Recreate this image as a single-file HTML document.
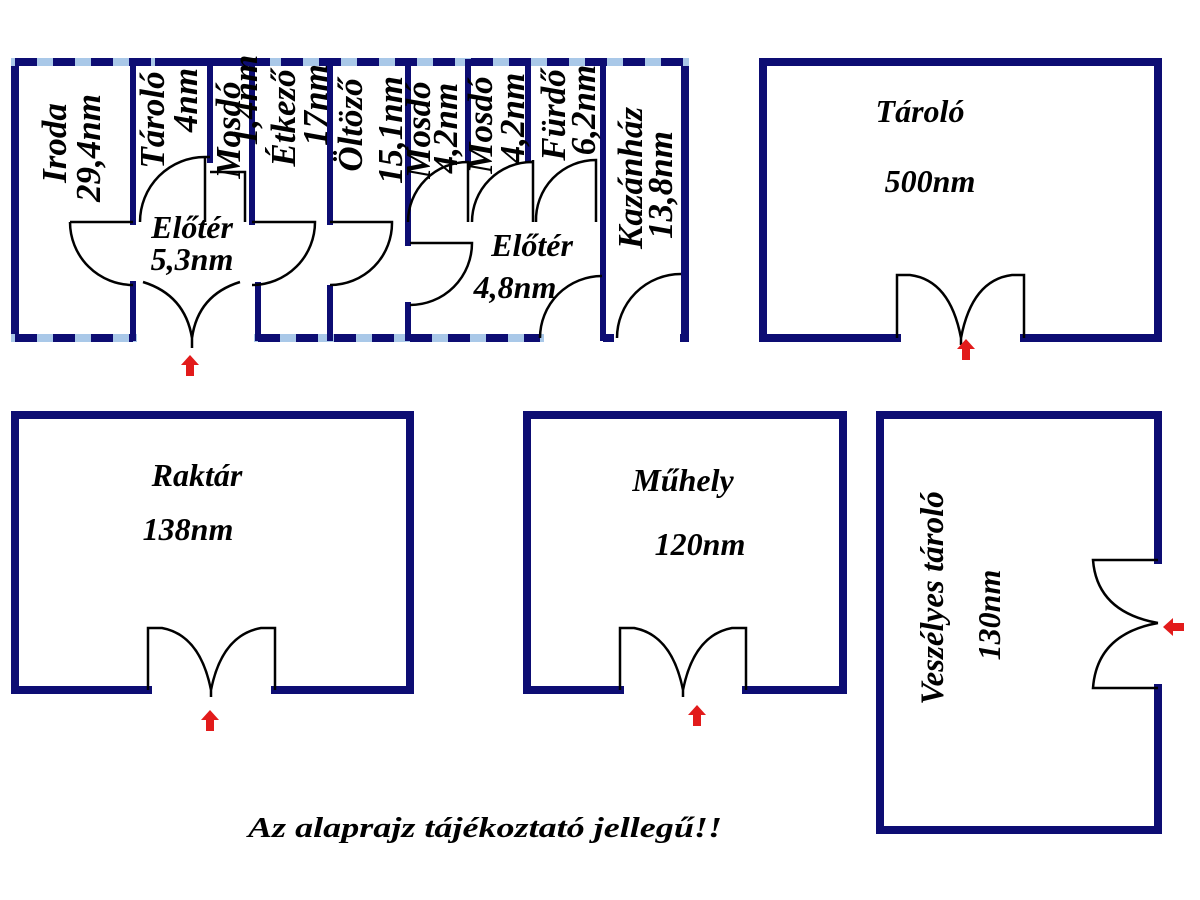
<!DOCTYPE html>
<html><head><meta charset="utf-8"><style>
html,body{margin:0;padding:0;background:#fff;}
svg{display:block}
text{font-family:"Liberation Serif",serif;font-weight:bold;font-style:italic;fill:#000;}
</style></head><body>
<svg width="1200" height="900" viewBox="0 0 1200 900" xmlns="http://www.w3.org/2000/svg">
<rect width="1200" height="900" fill="#fff"/>
<defs>
<g id="arr"><polygon points="0,-11 -9,-1 -4,-1 -4,10 4,10 4,-1 9,-1" fill="#e21b1b"/></g>
</defs>
<g stroke="#0d0d73" stroke-width="8" fill="none" stroke-linecap="square">
<line x1="15" y1="62" x2="15" y2="338"/>
<line x1="685" y1="62" x2="685" y2="338"/>
<g stroke="#a9c8e8"><line x1="15" y1="62" x2="685" y2="62"/><line x1="15" y1="338" x2="133" y2="338"/><line x1="258" y1="338" x2="540" y2="338"/></g>
<line x1="15" y1="62" x2="685" y2="62" stroke-dasharray="22 16" stroke-linecap="butt"/>
<line x1="155" y1="62" x2="270" y2="62" stroke-linecap="butt"/>
<line x1="15" y1="338" x2="133" y2="338" stroke-dasharray="22 16" stroke-linecap="butt"/>
<line x1="258" y1="338" x2="540" y2="338" stroke-dasharray="22 16" stroke-linecap="butt"/>
<line x1="603" y1="338" x2="614" y2="338" stroke-linecap="butt"/>
<line x1="680" y1="338" x2="688" y2="338" stroke-linecap="butt"/>
<g stroke-width="6">
<line x1="133" y1="62" x2="133" y2="222"/>
<line x1="133" y1="284" x2="133" y2="338"/>
<line x1="210" y1="62" x2="210" y2="160"/>
<line x1="252" y1="62" x2="252" y2="222"/>
<line x1="258" y1="285" x2="258" y2="338"/>
<line x1="330" y1="62" x2="330" y2="222"/>
<line x1="330" y1="288" x2="330" y2="338"/>
<line x1="408" y1="62" x2="408" y2="222"/>
<line x1="408" y1="228" x2="408" y2="243"/>
<line x1="408" y1="305" x2="408" y2="338"/>
<line x1="468" y1="62" x2="468" y2="160"/>
<line x1="528" y1="62" x2="528" y2="160"/>
<line x1="603" y1="62" x2="603" y2="338"/>
</g>
<path d="M897 338 H763 V62 H1158 V338 H1024"/>
<path d="M148 690 H15 V415 H410 V690 H275"/>
<path d="M620 690 H527 V415 H843 V690 H746"/>
<path d="M1158 560 V415 H880 V830 H1158 V688"/>
</g>
<g stroke="#000" stroke-width="2.5" fill="none">
<path d="M70 222 H133 M70 222 A63 63 0 0 0 133 285"/>
<path d="M140 222 A65 65 0 0 1 205 157 H210 M205 157 V222"/>
<path d="M210 172 H245 V222"/>
<path d="M252 222 H315 A63 63 0 0 1 252 285"/>
<path d="M143 282 Q185 295 192 338 M240 282 Q198 295 192 338 M192 338 V348"/>
<path d="M330 222 H392 A62 62 0 0 1 330 285"/>
<path d="M408 222 A60 60 0 0 1 468 162 V222"/>
<path d="M472 222 A60 60 0 0 1 532 162 H528 M533 160 V222"/>
<path d="M536 222 A60 60 0 0 1 596 160 V222"/>
<path d="M410 243 H472 A62 62 0 0 1 410 305"/>
<path d="M540 338 A62 62 0 0 1 602 276"/>
<path d="M617 338 A64 64 0 0 1 681 274"/>
<path d="M897 338 V275 H910 Q950 280 961 338 M1024 338 V275 H1012 Q972 280 961 338 V345"/>
<path d="M148 690 V628 H162 Q200 635 211 690 M275 690 V628 H261 Q222 635 211 690 V697"/>
<path d="M620 690 V628 H634 Q672 635 683 690 M746 690 V628 H732 Q694 635 683 690 V697"/>
<path d="M1158 560 H1093 Q1097 612 1158 623 M1158 688 H1093 Q1097 634 1158 623"/>
</g>
<use href="#arr" x="190" y="366"/>
<use href="#arr" x="966" y="350"/>
<use href="#arr" x="210" y="721"/>
<use href="#arr" x="697" y="716"/>
<use href="#arr" transform="translate(1174,627) rotate(-90)"/>
<g font-size="35">
<text transform="translate(66,143) rotate(-90)" text-anchor="middle">Iroda</text>
<text transform="translate(100,148) rotate(-90)" text-anchor="middle">29,4nm</text>
<text transform="translate(164,120) rotate(-90)" text-anchor="middle">Tároló</text>
<text transform="translate(197,100) rotate(-90)" text-anchor="middle">4nm</text>
<text transform="translate(240,130) rotate(-90)" text-anchor="middle">Mosdó</text>
<text transform="translate(257,100) rotate(-90)" text-anchor="middle">1,4nm</text>
<text transform="translate(295,118) rotate(-90)" text-anchor="middle">Étkező</text>
<text transform="translate(327,105) rotate(-90)" text-anchor="middle">17nm</text>
<text transform="translate(362,125) rotate(-90)" text-anchor="middle">Öltöző</text>
<text transform="translate(402,130) rotate(-90)" text-anchor="middle">15,1nm</text>
<text transform="translate(430,130) rotate(-90)" text-anchor="middle">Mosdó</text>
<text transform="translate(457,128) rotate(-90)" text-anchor="middle">4,2nm</text>
<text transform="translate(492,125) rotate(-90)" text-anchor="middle">Mosdó</text>
<text transform="translate(524,118) rotate(-90)" text-anchor="middle">4,2nm</text>
<text transform="translate(565,115) rotate(-90)" text-anchor="middle">Fürdő</text>
<text transform="translate(595,110) rotate(-90)" text-anchor="middle">6,2nm</text>
<text transform="translate(642,178) rotate(-90)" text-anchor="middle">Kazánház</text>
<text transform="translate(672,185) rotate(-90)" text-anchor="middle">13,8nm</text>
</g>
<g font-size="32">
<text x="192" y="238" text-anchor="middle">Előtér</text>
<text x="192" y="270" text-anchor="middle">5,3nm</text>
<text x="532" y="256" text-anchor="middle">Előtér</text>
<text x="515" y="298" text-anchor="middle">4,8nm</text>
<text x="920" y="122" text-anchor="middle">Tároló</text>
<text x="930" y="192" text-anchor="middle">500nm</text>
<text x="197" y="486" text-anchor="middle">Raktár</text>
<text x="188" y="540" text-anchor="middle">138nm</text>
<text x="683" y="491" text-anchor="middle">Műhely</text>
<text x="700" y="555" text-anchor="middle">120nm</text>
<text transform="translate(943,598) rotate(-90)" text-anchor="middle" font-size="33">Veszélyes tároló</text>
<text transform="translate(1000,615) rotate(-90)" text-anchor="middle">130nm</text>
</g>
<text x="485" y="837" text-anchor="middle" font-size="29" textLength="474" lengthAdjust="spacingAndGlyphs">Az alaprajz tájékoztató jellegű!!</text>
</svg>
</body></html>
